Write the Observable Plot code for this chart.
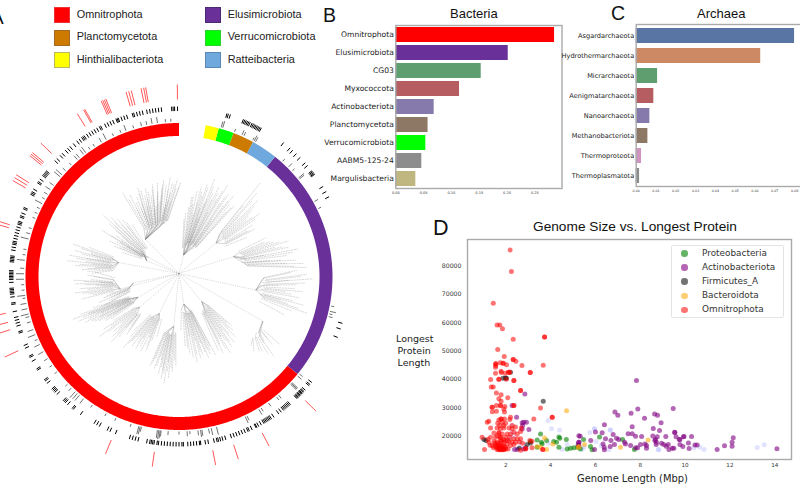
<!DOCTYPE html>
<html><head><meta charset="utf-8">
<script src="https://cdn.jsdelivr.net/npm/d3@7"></script>
<script src="https://cdn.jsdelivr.net/npm/@observablehq/plot@0.6"></script>
<style>
html,body{margin:0;padding:0;background:#fff;width:800px;height:487px;overflow:hidden}
#page{position:relative;width:800px;height:487px;overflow:hidden}
.abs{position:absolute;white-space:nowrap}
.serif{font-family:"Liberation Sans",Arial,sans-serif;color:#111}
.dj{font-family:"DejaVu Sans",sans-serif;color:#222}
svg{position:absolute;background:transparent;overflow:visible}
</style></head><body><div id="page"></div>
<script>
// ---------- Panel A ----------
const legendA=[["Omnitrophota","#ff0000","#ee3333"],["Planctomycetota","#cc7a00","#a86a20"],["Hinthialibacteriota","#ffff00","#b8b860"],
["Elusimicrobiota","#6a3099","#4a2a70"],["Verrucomicrobiota","#00ff00","#30d030"],["Ratteibacteria","#6fa8dc","#5a88b0"]];
const ringClades=[["Omnitrophota",129.4,360,"#ff0000"],["Elusimicrobiota",38.7,129.4,"#6a3099"],["Ratteibacteria",28.8,38.7,"#6fa8dc"],
["Planctomycetota",20.8,28.8,"#cc7a00"],["Verrucomicrobiota",15,20.8,"#00ff00"],["Hinthialibacteriota",10,15,"#ffff00"]];
const redTicks=[359.5,350,349.4,348.6,345.6,344.8,344,337.6,337.1,336.6,336.1,330.6,330.2,328,314,310.2,309.6,309,302,301,300,287,286,258,255,252.5,245.2,202.5,188,169,162,152,134.5];
const outerTicks=[359.5,358.5,358,357.5,354,353,352,351,350,349,347.5,346.5,345.5,344.5,344,342,341,340,339,338.6,338.2,337,336,335,334,332.5,332,331,330,329,328,327,326,325.5,325,324,323,321.5,320,319,318,316.5,315.5,314,313,308.5,308,307.5,307,306.5,305,304,303.5,301,300,299.5,299,
294,293.5,292,291,290.5,289,288.5,288,287,286,285,284,283,282,281.5,281,280,279,277,276.5,276,275.5,275,272,271.5,271,270.5,270,269.5,269,268,266,265.5,265,264.5,264,263,261,260.5,258,256,255,254,253,251,250.5,246,245,242,241.5,240,237,236.5,232.5,232,231,228.5,228,227.5,227,226,223,222.5,222,221,219,218.5,215.5,210,209,208,205,204,202,
197,196,195,194,191,190,189.5,189,188.5,187.5,187,186,185,184,183,182,181,180,179,178.5,177,176,175,174,173,172.6,171,170,168,167,166.5,165.8,165,164,162,161,160,159,158,157,156,155.5,154.5,153,152.7,152,151,150,149.5,149,148.5,148,147.5,147,146,144,143,142,141.5,141,140.5,140,139.5,139,136,135.7,135.4,135,134.7,134.4,134,133.7,133.4,133,132.6,132,130,129.5,128.6,
16.4,16.9,17.6,22.3,22.8,23.3,23.8,24.3,24.8,25.5,26,26.5,27,27.5,28,28.5,29,38,40.8,42,43.7,45.5,48,49.2,51.5,51.9,52.3,52.7,53,58,60,62,106,108,111];
const innerTicks=[[357,3],[355,3],[352,6],[350,6],[348,4],[346,4],[343,3],[340,6],[338,3],[335,3],[332,7],[330,5],[327,3],[325,3],[323,7],[322,6],[320,5],[319,5],[316,3],[313,4],[311,8],[310,8],[306,5],[304,6],[302,4],[300,3],[298,8],[296,3],[294,3],[292,3],[288,3],[286,4],[284,8],[280,3],[278,3],[276,8],[273,4],[271,8],[269,8],[267,3],[265,3],[263,8],[262,3],[260,6],[258,6],[256,8],[255,4],[253,4],[250,6],[248,8],[246,3],[244,6],[241,6],[238,4],[235,3],[232,3],[226,3],[224,4],[222,8],[221,7],[220,7],[218,6],[214,3],[208,3],[204,3],[198,3],[195,8],[194.5,8],[194,5],[188,8],[187.5,9],[187,8],[186.6,6],[184,4],[180,3],[177,5],[176,3],[173,5],[172,7],[171.5,6],[169,5],[168,7],[166,8],[154.7,7],[154,5],[149,6],[148,4],[144.7,4],[141,4],[140,4],[134,8],[133.6,8],[133.2,8],[130,5],[129,4],[16.4,7],[15.8,6],[21,3],[24,5],[24.8,4],[29,6],[29.6,5],[28.4,3],[42,3],[45,5],[47,3],[50.5,7],[51,6],[61,4],[64,3],[101,3],[103,6],[104,3],[105,4]];
const cladeRoots=[[318,50],[296,36],[283,62],[302,36],[258,60],[262,46],[243,46],[232,50],[208,42],[186,50],[170,28],[138,34],[118,95],[100,78],[70,58],[48,50],[12,22]];
const cladeTips=[
[326,101,329,95,332,90,335,98,337,88,339,94,341,86,343,92,345,84,347,96,349,90,351,98,353,88,355,100,357,92,359,97,1,94,336,80,344,76,352,78,348,70,340,72,332,74,327,92,330,86,333,82,334,92,336,94,338,84,340,90,342,82,344,96,346,88,348,84,350,94,352,92,354,84,356,94,358,88,0,90,328,80,331,78,335,76,338,76,342,74,346,78,350,74,354,76],
[309,97,311,90,313,84,315,80,305,70,303,76,307,88,300,60,310,72,318,70,301,90,306,78,308,82,312,78,314,72,316,76,310,84,304,64,302,68],
[287,111,284,108,281,112,278,113,276,105,274,98,279,95,285,92,272,88,282,85,288,95,276,85,286,102,283,100,280,104,277,100,275,92,273,92,278,88,284,90,281,94],
[297,78,299,72,296,66,293,62,301,80,295,72,298,64,300,68],
[268,106,266,104,263,100,261,105,259,92,257,100,268,88,264,84,271,92,273,84,267,96,265,94,262,92,260,98,258,88,270,86,266,80,263,78],
[254,79,252,84,249,80,251,74,256,70,254,66,253,72,250,72,255,76],
[248,114,246,110,244,104,249,106,243,98,247,96,241,92,245,86,239,86,250,92,240,76,244,70,247,104,245,100,242,96,246,90,248,98,243,88,241,82,249,84,240,86,238,80],
[226,94,228,90,230,85,233,100,235,92,225,85,222,78,231,74,236,78,224,68,227,84,229,80,232,90,234,84,226,74,223,74],
[204,82,207,84,210,72,212,78,214,84,216,80,218,90,208,64,203,70,220,70,200,64,205,76,209,80,211,84,213,72,215,74,217,84,219,78,206,68],
[196,86,194,92,192,100,190,104,188,108,186,102,184,96,182,90,193,82,198,94,187,86,190,96,195,96,191,92,189,98,187,96,185,92,183,84,192,86,197,90],
[168,88,165,85,163,82,160,87,158,84,155,87,172,78,175,70,170,60,166,66,162,70,158,70,178,54,167,80,164,78,161,80,159,78,157,80,170,82,173,72,156,76],
[146,92,143,88,140,86,137,82,135,76,133,72,149,80,145,74,141,70,138,62,152,84,147,86,144,80,142,82,139,76,136,72,134,66,150,88,148,74],
[130,124,131,118,133,110,135,106,128,108,126,115,124,122,129,98,127,106,125,108,132,112,134,100],
[106,133,103,128,100,122,97,125,94,118,91,134,89,128,92,110,95,100,98,108,103,105,107,118,87,118,110,112,105,124,102,116,99,114,96,116,93,126,90,122,88,112,104,112],
[77,122,79,110,82,118,84,125,86,128,74,108,72,115,70,100,68,92,66,95,80,92,76,88,78,116,81,104,83,108,85,116,75,114,73,100,71,106,69,98],
[41,124,44,105,46,110,48,98,50,88,52,102,55,90,57,84,42,96,45,85,60,78,43,114,47,102,49,92,51,94,53,96,56,82,58,90],
[20,104,17,96,14,92,11,74,12,88,16,84,19,78,22,90,24,98,26,86,28,104,30,92,32,84,34,98,36,80,38,90,8,70,9,80,13,64,18,62,24,70,30,66,6,64,5,58,10,82,15,88,18,94,21,96,23,84,25,92,27,96,29,84,31,96,33,90,35,88,37,86,20,82,14,76,17,72]];

// ---------- Panel B ----------
const bactNames=["Omnitrophota","Elusimicrobiota","CG03","Myxococcota","Actinobacteriota","Planctomycetota","Verrucomicrobiota","AABM5-125-24","Margulisbacteria"];
const bactValues=[0.2855,0.2022,0.1536,0.1146,0.069,0.058,0.054,0.0468,0.036];
const bactColors=["#ff0000","#6a3099","#5f9e6e","#b55d60","#857aab","#8d7866","#00ff00","#8d8d8d","#c0b67f"];
// ---------- Panel C ----------
const archNames=["Asgardarchaeota","Hydrothermarchaeota","Micrarchaeota","Aenigmatarchaeota","Nanoarchaeota","Methanobacteriota","Thermoproteota","Thermoplasmatota"];
const archValues=[0.08,0.0629,0.0108,0.0089,0.0069,0.0059,0.0027,0.0017];
const archColors=["#5975a4","#cc8963","#5f9e6e","#b55d60","#857aab","#8d7866","#d095bf","#8c8c8c"];
// ---------- Panel D: [genome Mbp, longest protein thousand aa] ----------
const otherPts=[[3.89,25.5],[4.04,22.6],[4.4,22.2],[2.28,23.8],[2.28,21.4],[2.33,20.2],[2.14,19],[2.66,17.9],[2.63,16.1],[4.74,17.1],[4.52,15.3],[5.96,22.6],[5.75,21.3],[6.66,22.2],[6.03,18.1],[6.26,16.7],[6.6,15.3],[5.41,15.5],[8.83,15.2],[10.39,15.9],[10.66,16.1],[10.85,15.3],[13.22,16],[13.53,17],[8.8,15.3],[6.67,22.2],[5.96,22.5],[5.5,16.2],[3.9,17.5]];
const proteoPts=[[3.55,20.8],[3.4,18.7],[3.59,17.9],[3.62,17.3],[3.82,18.5],[4.26,17.9],[4.37,19.7],[4.41,19.3],[4.7,18.8],[4.37,16.1],[4.14,18.1],[4.74,15.5],[4.89,15.8],[5.04,15.9],[3.1,18.1],[3.4,16.1],[5.2,16.1],[5.47,18.8],[6.18,19.7],[7.21,18.8],[7.74,15.3],[5.78,16.4],[5.85,15.2],[5.23,16.4],[5.33,15.5]];
const actinoPts=[[2.85,34.9],[2.48,26.7],[2.73,24.7],[2.92,24.9],[2.8,24.9],[2.75,23.8],[3.03,22.4],[2.28,30.8],[2.73,22.5],[2.39,15.3],[2.51,15.3],[2.8,15.5],[2.88,15.9],[5.26,20.2],[5.26,17.9],[5.26,16.7],[7.83,39.6],[6.87,28.5],[7,27.4],[7.59,28.1],[7.89,29.6],[8.19,26.3],[8.64,27.8],[8.77,27.4],[9.47,29.8],[8.93,24.7],[6.4,24],[7.64,23.3],[8.58,22.7],[8.86,22],[6,21.5],[6.3,21.2],[5.32,20],[6.79,20.6],[7.46,20.9],[7.64,20.9],[7.79,20],[8.06,19.9],[8.56,20.1],[8.76,19.8],[9.14,19.9],[9.54,21.3],[9.6,19.8],[9.74,18.8],[9.93,19.8],[6.45,19.1],[5.79,18.5],[6.69,18.5],[6.94,19.3],[7.04,18.8],[7.3,17.9],[7.34,17.3],[7.57,16.7],[7.79,15.9],[7.88,15.9],[8.01,17.1],[8.21,17.3],[8.28,16.7],[8.28,15.8],[8.68,18.8],[8.65,18.5],[8.72,17.9],[8.71,17.1],[8.95,17.5],[9.05,17.1],[9.16,16.5],[9.25,17.1],[9.28,15.3],[9.43,15.8],[9.5,15.8],[9.77,17.1],[9.9,16.4],[6.34,17.3],[6.85,17.1],[6.66,16.4],[6.39,16.1],[6.4,15.2],[5.96,15.3],[5.26,17.9],[5.23,17.1],[9.54,21.4],[9.77,18.8],[9.95,19.9],[10.29,19.9],[10.15,17.6],[10.18,15.7],[10.44,16.9],[10.54,16.9],[11.43,15.3],[11.76,16.6],[12.1,17.9],[12.15,19.5],[12.1,16.5],[14.1,15.6]];
const firmiPts=[[1.87,40.4],[2.03,40.4],[2.21,42.5],[3.67,32.3],[1.02,18.8],[1.12,18.5],[1.99,40.5],[2.95,17.1],[2.6,15.8],[3.1,17.6]];
const bacteroPts=[[4.71,29],[3.73,19.4],[4.1,17.3],[3.55,16.1],[3.82,15.3],[3.4,16.4],[5.26,16.4],[5.51,17.1],[5.23,16.1],[7.12,16.1],[8.35,18.7]];
const omniPts=[[2.19,85.6],[2.25,78],[1.44,66.8],[1.61,59.2],[1.73,59.2],[1.85,57.8],[2.33,54.15],[3.73,54.9],[3.73,54.9],[1.64,50.5],[1.93,48.05],[2.33,47],[2.33,47],[2.45,46.4],[3.67,45],[2.72,44.9],[1.55,45.5],[1.55,45.5],[1.55,44.9],[1.75,45.9],[1.88,45.7],[1.88,45.7],[2.03,45.2],[1.54,44.3],[3.09,42.4],[3.09,42.4],[1.79,42.9],[1.8,42.4],[1.97,42.2],[2.18,42.5],[2.12,42.5],[2.12,42.5],[1.54,42.2],[1.32,39.95],[1.69,40.06],[1.69,40.06],[2.02,40.06],[2.36,39.6],[2.36,39.6],[1.44,37.3],[1.58,35.2],[1.35,37.3],[1.79,34.6],[2.66,36.1],[2.66,36.1],[2.09,33.5],[1.69,33.2],[1.79,32.3],[1.39,30.2],[1.39,30.2],[1.58,30.8],[1.76,30.8],[1.76,30.8],[1.96,30.45],[2.36,30.8],[2.36,30.8],[1.58,28.8],[1.4,28.6],[1.91,29.6],[1.94,28.5],[3.55,29.9],[4.07,26.7],[4.07,26.7],[3.25,26.1],[2.21,26.7],[2.18,25.9],[1.94,26.1],[1.79,26.1],[1.79,26.1],[1.69,25.75],[1.24,25.3],[1.17,24.9],[1.84,24.9],[1.99,24.6],[1.64,24.6],[1.73,23.8],[1.91,23.8],[1.32,22.9],[1.61,22.9],[1.76,22.6],[1.91,22.9],[2.14,22.9],[2.28,22.6],[2.43,23.2],[2.69,22.9],[2.28,23.8],[2.66,21.65],[2.36,21.4],[1.47,21.1],[1.69,21.1],[1.69,21.1],[1.84,20.8],[2.06,20.8],[2.21,20.8],[2.51,20.8],[0.94,19.65],[1.32,19.65],[1.54,19.65],[1.76,19.65],[1.76,19.65],[1.99,19.65],[2.18,19.65],[2.36,19.1],[2.66,19.1],[3.07,18.5],[3.17,18.2],[2.51,19.1],[1.05,15.3],[1.24,17.9],[1.47,18.2],[1.61,17.9],[1.76,17.5],[1.91,17.9],[2.06,17.3],[2.21,16.7],[2.36,17.1],[1.39,16.7],[1.54,16.4],[1.69,15.9],[1.84,15.9],[1.99,16.1],[1.61,15.3],[1.76,15.2],[1.91,15.2],[1.69,15.2],[1.84,15.2],[2.66,15.1],[2.88,15.5],[2.43,17.9],[3.65,15.3],[3.65,15.3],[3.17,15.9],[1.55,16.9],[1.7,16.9],[1.86,16.7],[1.45,15.9],[2,15.6],[2.1,15.5],[1.75,18.8],[1.9,18.8],[1.62,20.2],[2.75,17.5],[2.6,18],[2.9,15.7],[2.15,18.2],[1.3,16.8],[1.2,18.9],[1.65,15.6],[1.72,15.8],[1.78,15.4],[1.82,15.7],[1.88,15.5],[1.94,15.4],[1.6,16.2],[1.68,16.5],[1.75,16.2],[1.83,16.3],[1.92,16.5],[1.52,17.6],[1.66,17.4],[1.8,18.2],[1.97,18.4],[2.08,18.6],[2.28,18]];

// ---------- shared ----------
const page=document.getElementById("page");
function place(el,left,top){el.style.position="absolute";el.style.left=left+"px";el.style.top=top+"px";page.appendChild(el);return el;}
function text(s,cls,left,top,size,extra=""){const d=document.createElement("div");d.className="abs "+cls;d.textContent=s;d.style.cssText+=`left:${left}px;top:${top}px;font-size:${size}px;line-height:1;${extra}`;page.appendChild(d);return d;}
const rad=Math.PI/180;
const polX=(a,r)=>r*Math.sin(a*rad), polY=(a,r)=>-r*Math.cos(a*rad);

// ---------- Panel A plot ----------
const branches=[], tipStems=[], trunks=[];
cladeRoots.forEach(([ra,rr],i)=>{
  trunks.push({a0:0,r0:3,a1:ra,r1:rr});
  const t=cladeTips[i];
  for(let k=0;k<t.length;k+=2){
    const d=((t[k]-ra+540)%360)-180;
    const midA=ra+d*0.72, midR=rr+(t[k+1]-rr)*0.18;
    tipStems.push({a0:midA,r0:midR,a1:t[k],r1:t[k+1]});
    if(k%8===0)branches.push({a0:ra,r0:rr,a1:midA,r1:midR});
  }
});
const RING=147;
const ringMarks=ringClades.map(([n,a0,a1,c])=>{
  const pts=d3.range(a0,a1,0.5).concat([a1]);
  return Plot.line(pts,{x:a=>polX(a,RING),y:a=>polY(a,RING),stroke:c,strokeWidth:13,strokeLinecap:"butt",curve:"linear"});
});
const linkOf=(data,o)=>Plot.link(data,{x1:d=>polX(d.a0,d.r0),y1:d=>polY(d.a0,d.r0),x2:d=>polX(d.a1,d.r1),y2:d=>polY(d.a1,d.r1),...o});
const panelA=Plot.plot({width:340,height:487,margin:0,
  style:{background:"transparent"},
  x:{domain:[-178.5,161.5],range:[0,340],axis:null},
  y:{domain:[-276,211],range:[0,487],axis:null},
  marks:[
    linkOf(trunks,{stroke:"#888",strokeWidth:0.3,strokeDasharray:"1.2,1"}),
    linkOf(branches,{stroke:"#777",strokeWidth:0.3}),
    linkOf(tipStems,{stroke:"#666",strokeWidth:0.3,strokeOpacity:0.85,strokeDasharray:"2,0.7"}),
    ...ringMarks,
    Plot.link(innerTicks,{x1:d=>polX(d[0],155),y1:d=>polY(d[0],155),x2:d=>polX(d[0],155+d[1]),y2:d=>polY(d[0],155+d[1]),stroke:"#111",strokeWidth:0.6}),
    Plot.link(outerTicks,{x1:a=>polX(a,165.5),y1:a=>polY(a,165.5),x2:a=>polX(a,170),y2:a=>polY(a,170),stroke:"#000",strokeWidth:1}),
    Plot.link(redTicks,{x1:a=>polX(a,177),y1:a=>polY(a,177),x2:a=>polX(a,192),y2:a=>polY(a,192),stroke:"#ff2020",strokeWidth:0.75})
  ]});
place(panelA,0,0);
text("A","serif",-9,8,19);
legendA.forEach(([n,c,b],i)=>{
  const col=i<3?0:1,row=i%3;
  const sw=document.createElement("div");
  sw.style.cssText=`position:absolute;left:${col?205:54.3}px;top:${[7.3,29.5,52][row]}px;width:14px;height:14px;background:${c};border:0.7px solid ${b};`;
  page.appendChild(sw);
  text(n,"serif",col?227.7:76.7,[8.6,31,53.5][row],10.9,"color:#222");
});

// ---------- Bars ----------
function barPanel(names,values,colors,{left,width,ml,top,bottom,height,xdom,ticks,pi,po,tickSize,tickPad,labelSize}){
  const rows=names.map((n,i)=>({n,v:values[i],c:colors[i]}));
  const p=Plot.plot({width,height,marginLeft:ml,marginRight:0,marginTop:top,marginBottom:height-bottom,
    style:{background:"transparent",fontFamily:"DejaVu Sans",overflow:"visible"},
    x:{domain:xdom,axis:null},
    y:{domain:names,paddingInner:pi,paddingOuter:po,axis:null},
    marks:[
      Plot.barX(rows,{y:"n",x:"v",fill:d=>d.c}),
      Plot.axisX({ticks,tickFormat:d3.format(".2f"),tickSize:0,tickPadding:tickPad,fontSize:tickSize,label:null,fill:"#333"}),
      Plot.axisY({tickSize:0,tickPadding:2,fontSize:labelSize,label:null,fill:"#222"}),
      Plot.frame({stroke:"#aaa",strokeWidth:1.4})
    ]});
  place(p,left,0);
}
barPanel(bactNames,bactValues,bactColors,{left:320,width:241.5,ml:75.3,top:25,bottom:188,height:200,xdom:[0,0.2989],ticks:[0,.05,.1,.15,.2,.25],pi:0.17,po:0.08,tickSize:3.5,tickPad:3,labelSize:7.6});
barPanel(archNames,archValues,archColors,{left:560,width:260,ml:75.7,top:24,bottom:186,height:200,xdom:[0,0.0931],ticks:[0,.01,.02,.03,.04,.05,.06,.07,.08],pi:0.27,po:0.14,tickSize:3.3,tickPad:3,labelSize:6.6});
text("Bacteria","serif",450,7,13);
text("B","serif",323,5.5,19.5);
text("Archaea","serif",697,7,13);
text("C","serif",611,4,19.5);

// ---------- Scatter ----------
const toRows=(pts,g)=>pts.map(([x,k])=>({x,y:k*1000,g}));
const seriesD=[["Other",otherPts,"#aab0ff",0.35],["Proteobacteria",proteoPts,"#008000",0.6],["Actinobacteriota",actinoPts,"#800080",0.6],["Firmicutes_A",firmiPts,"#000000",0.55],["Bacteroidota",bacteroPts,"#ffa500",0.55],["Omnitrophota",omniPts,"#ff0000",0.55]];
const scatter=Plot.plot({width:324,height:235,marginLeft:0,marginRight:0,marginTop:0,marginBottom:15,
  style:{background:"transparent",fontFamily:"DejaVu Sans",overflow:"visible"},
  x:{domain:[0.29,14.75],axis:null},
  y:{domain:[11800,89260],axis:null},
  marks:[
    ...seriesD.map(([g,pts,c,o])=>Plot.dot(toRows(pts,g),{x:"x",y:"y",r:2.5,fill:c,fillOpacity:o,stroke:"none"})),
    Plot.axisX({ticks:[2,4,6,8,10,12,14],tickSize:0,tickPadding:4,fontSize:5.6,label:null,fill:"#333",tickFormat:d3.format("d")}),
    Plot.axisY({ticks:[20000,30000,40000,50000,60000,70000,80000],tickSize:0,tickPadding:6,fontSize:6.2,label:null,fill:"#333",tickFormat:d3.format("d"),textAnchor:"end"}),
    Plot.frame({stroke:"#aaa",strokeWidth:1.4})
  ]});
place(scatter,467,239);
text("Genome Size vs. Longest Protein","serif",533,219.5,13.7);
text("D","serif",433,218,21.5);
text("Longest","dj",396,333.5,9.5);
text("Protein","dj",397.5,346,9.5);
text("Length","dj",397.5,358,9.5);
text("Genome Length (Mbp)","dj",577,474,9.9);

const box=document.createElement("div");
box.style.cssText="position:absolute;left:671px;top:245px;width:113px;height:73px;background:#fff;border:0.6px solid #e4e4e4;border-radius:1.5px;box-sizing:border-box;";
page.appendChild(box);
seriesD.slice(1).forEach(([g,,c,o],i)=>{
  const y=[253.5,267.3,281.5,295.7,309.7][i];
  const dot=document.createElement("div");
  dot.style.cssText=`position:absolute;left:681px;top:${y-3.2}px;width:6.5px;height:6.5px;border-radius:50%;background:${c};opacity:${o};`;
  page.appendChild(dot);
  text(g,"dj",702,y-4.5,8.9,"color:#333");
});
</script></body></html>
